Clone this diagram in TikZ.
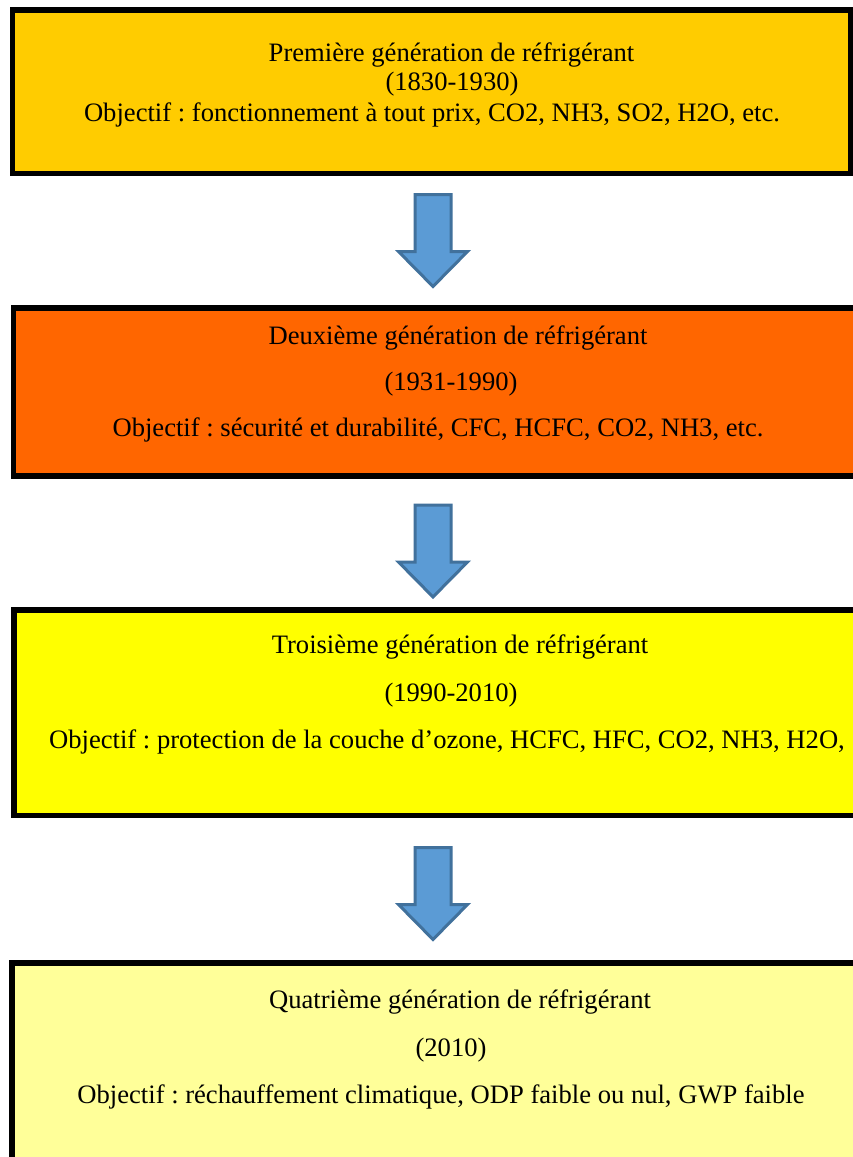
\documentclass[tikz,border=0pt]{standalone}
\usepackage{fontspec}
\setmainfont{Liberation Serif}
\definecolor{genA}{HTML}{FFCC00}
\definecolor{genB}{HTML}{FF6600}
\definecolor{genC}{HTML}{FFFF00}
\definecolor{genD}{HTML}{FFFF99}
\definecolor{arrfill}{HTML}{5B9BD5}
\definecolor{arrdraw}{HTML}{41719C}
\frenchspacing
\tikzset{
  genbox/.style={draw=black, line width=5.5pt, inner sep=0pt, outer sep=0pt, rectangle, anchor=north west},
  txt/.style={font=\fontsize{26.6}{30}\selectfont, anchor=base, inner sep=0pt, outer sep=0pt},
  blockarrow/.pic={
    \path[fill=arrfill, draw=arrdraw, line width=3pt, line join=miter]
      (-18,1.5) -- (18,1.5) -- (18,58.5) -- (34.5,58.5) -- (0,93.5) -- (-34.5,58.5) -- (-18,58.5) -- cycle;
  }
}
\begin{document}
\begin{tikzpicture}[x=1pt,y=-1pt]
\useasboundingbox (0,0) rectangle (853,1157);
\fill[white] (0,0) rectangle (853,1157);
% boxes
\node[genbox, fill=genA, minimum width=838.5pt, minimum height=163.3pt] (g1) at (12.3,10) {};
\node[genbox, fill=genB, minimum width=860pt, minimum height=168pt] (g2) at (13.3,308) {};
\node[genbox, fill=genC, minimum width=860pt, minimum height=205.5pt] (g3) at (14,610) {};
\node[genbox, fill=genD, minimum width=860pt, minimum height=210pt] (g4) at (12,963) {};
% arrows
\pic (a1) at (433,193) {blockarrow};
\pic (a2) at (433,503.5) {blockarrow};
\pic (a3) at (433,846) {blockarrow};
% texts box 1
\node[txt] (t11) at (451.5,61.7) {Première génération de réfrigérant};
\node[txt] (t12) at (452,90.5) {(1830-1930)};
\node[txt] (t13) at (432,121.7) {Objectif : fonctionnement à tout prix, CO2, NH3, SO2, H2O, etc.};
% texts box 2
\node[txt] (t21) at (458,344) {Deuxième génération de réfrigérant};
\node[txt] (t22) at (451,390) {(1931-1990)};
\node[txt] (t23) at (438,436) {Objectif : sécurité et durabilité, CFC, HCFC, CO2, NH3, etc.};
% texts box 3
\node[txt] (t31) at (460,653) {Troisième génération de réfrigérant};
\node[txt] (t32) at (451,701.5) {(1990-2010)};
\node[txt] (t33) at (447,748) {Objectif : protection de la couche d’ozone, HCFC, HFC, CO2, NH3, H2O,};
% texts box 4
\node[txt] (t41) at (460,1008) {Quatrième génération de réfrigérant};
\node[txt] (t42) at (451,1056.5) {(2010)};
\node[txt] (t43) at (441,1103) {Objectif : réchauffement climatique, ODP faible ou nul, GWP faible};
\end{tikzpicture}
\end{document}
